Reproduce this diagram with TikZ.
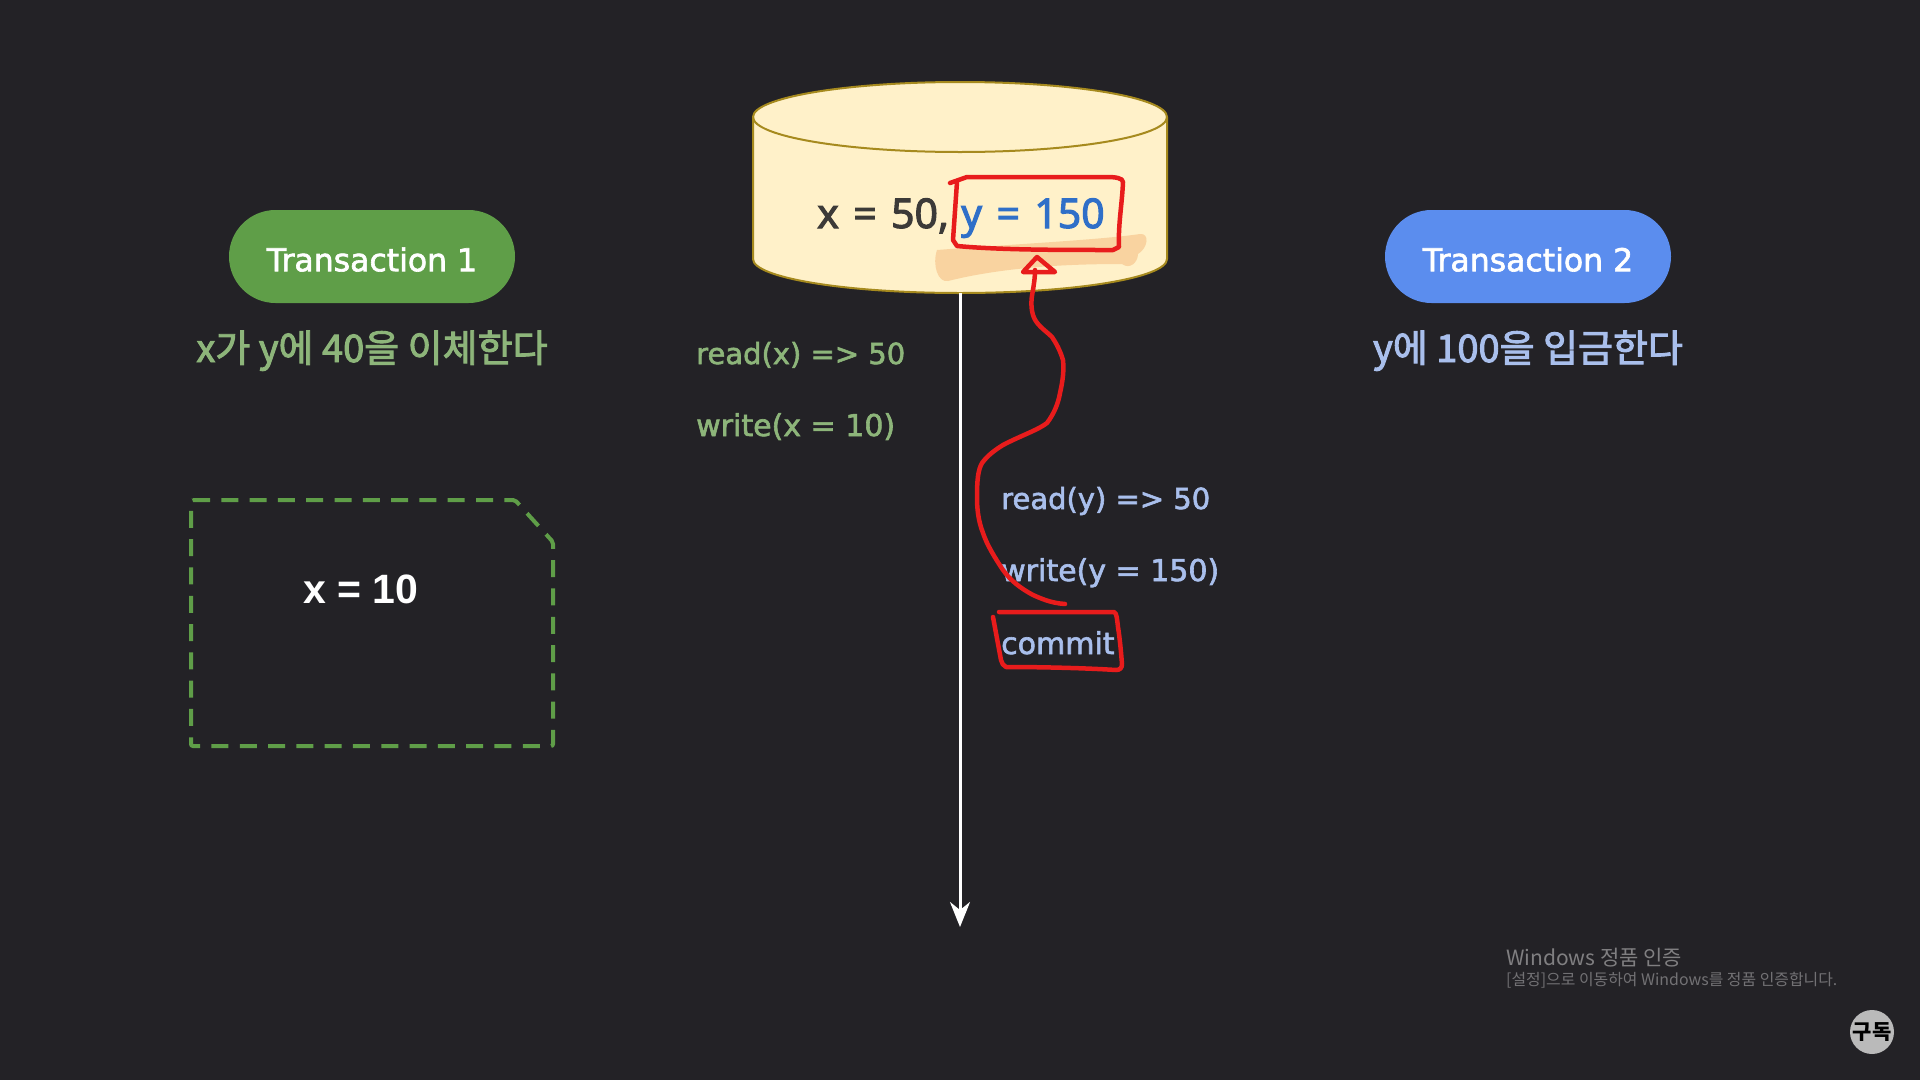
\documentclass[tikz,border=0pt]{standalone}
\usepackage{fontspec}
\usetikzlibrary{arrows.meta,shapes.misc}
\setmainfont[FakeBold=2]{DejaVu Sans}
\newfontfamily\krfont[FakeBold=2.5]{Noto Sans CJK KR}
\newfontfamily\wmfont{Noto Sans CJK KR}
\newfontfamily\arfont{Liberation Sans}
\newfontfamily\nsfont[FakeBold=2.5,WordSpace=1.35]{Noto Sans}
\definecolor{bgc}{HTML}{232226}
\definecolor{tgreen}{HTML}{5F9E48}
\definecolor{tblue}{HTML}{5B8DEE}
\definecolor{lgreen}{HTML}{8DB57A}
\definecolor{lblue}{HTML}{A9BFEC}
\definecolor{cylfill}{HTML}{FFF1C9}
\definecolor{cylline}{HTML}{A68A1E}
\definecolor{redink}{HTML}{E81C1C}
\definecolor{hilite}{HTML}{F9D3A0}
\definecolor{valdark}{HTML}{3C3A38}
\definecolor{valblue}{HTML}{2F6FC8}
\newcommand{\fsz}[1]{\fontsize{#1}{#1}\selectfont}
\tikzset{
 x=1pt,y=-1pt,
 pill/.style={rounded rectangle,minimum width=286pt,minimum height=93pt,inner sep=0pt,text=white},
 pilltext/.style={inner sep=0pt,text=white,font=\fsz{31.5}},
 oplabel/.style={anchor=base west,inner sep=0pt,font=\fsz{29}},
 oplabelw/.style={anchor=base west,inner sep=0pt,font=\fsz{30}},
 kolabel/.style={anchor=base,inner sep=0pt,font=\krfont\fsz{38}},
 vallabel/.style={anchor=base west,inner sep=0pt,font=\nsfont\fsz{41}},
 ink/.style={draw=redink,line width=4.5pt,line cap=round,line join=round}
}
\begin{document}
\begin{tikzpicture}
\useasboundingbox (0,0) rectangle (1920,1079.6);
\fill[bgc] (-2,-2) rectangle (1922,1084);
% cylinder
\path[fill=cylfill,draw=cylline,line width=2pt] (753,117) -- (753,259) arc[start angle=180,end angle=360,x radius=207,y radius=-34] -- (1167,117) arc[start angle=0,end angle=180,x radius=207,y radius=-35] -- cycle;
\draw[cylline,line width=2pt] (753,117) arc[start angle=180,end angle=360,x radius=207,y radius=-35];
\coordinate (dbbottom) at (960,293);
% highlight
\fill[hilite] (937,250) .. controls (1000,245) and (1100,240) .. (1140,234) .. controls (1150,233) and (1148,248) .. (1138,254) .. controls (1138,262) and (1130,270) .. (1122,264) .. controls (1060,264) and (1000,268) .. (948,281) .. controls (938,283) and (932,265) .. (937,250) -- cycle;
% values
\node[vallabel,text=valdark] (xval) at (817,228) {x = 50,};
\node[vallabel,text=valblue] (yval) at (961,228) {y = 150};
% timeline
\coordinate (tend) at (960,927);
\draw[white,line width=3pt,-{Stealth[length=25pt,width=20pt,inset=8pt]}] (dbbottom) -- (tend);
% transactions
\node[pill,fill=tgreen] (t1) at (372,256.5) {};
\node[pill,fill=tblue] (t2) at (1528,256.5) {};
\node[pilltext] (t1label) at (372,259.5) {Transaction 1};
\node[pilltext] (t2label) at (1528,259.5) {Transaction 2};
\node[kolabel,text=lgreen] (d1) at (372,362) {x가 y에 40을 이체한다};
\node[kolabel,text=lblue] (d2) at (1528,362) {y에 100을 입금한다};
% ops
\node[oplabel,text=lgreen] (r1) at (696,364) {read(x) => 50};
\node[oplabelw,text=lgreen] (w1) at (696,436) {write(x = 10)};
\node[oplabel,text=lblue] (r2) at (1001,509) {read(y) => 50};
\node[oplabelw,text=lblue] (w2) at (1001,581) {write(y = 150)};
\node[oplabelw,text=lblue] (c2) at (1001,654) {commit};
% folder
\draw[tgreen,line width=4pt,dash pattern=on 17pt off 11.3pt,rounded corners=2pt] (191,500) -- (515,500) -- (553,542) -- (553,746) -- (191,746) -- cycle;
\node[anchor=base,inner sep=0pt,text=white,font=\arfont\bfseries\fsz{41}] (xten) at (361,603) {x = 10};
% ink
\draw[ink] (950,183) -- (967,177) -- (1107,177) .. controls (1115,177) and (1123,178) .. (1123,182) .. controls (1122,205) and (1118,225) .. (1119,247) -- (1113,250) .. controls (1060,250) and (1000,250) .. (957,246) -- (953,240) -- (957,182);
\draw[ink] (1065,604) .. controls (1050,603) and (1040,598) .. (1033,595) .. controls (1020,588) and (1010,580) .. (1003,570) .. controls (995,558) and (987,545) .. (983,533) .. controls (978,520) and (977,508) .. (977,497) .. controls (977,480) and (978,470) .. (982,463) .. controls (988,455) and (995,450) .. (1003,445) .. controls (1020,436) and (1038,430) .. (1047,423) .. controls (1053,415) and (1058,405) .. (1060,393) .. controls (1063,380) and (1064,370) .. (1063,360) .. controls (1060,350) and (1056,343) .. (1052,337) .. controls (1045,330) and (1036,325) .. (1033,315) .. controls (1030,305) and (1032,295) .. (1033,290) .. controls (1034,283) and (1035,278) .. (1035,270);
\draw[ink] (1023,272) -- (1037,257) -- (1055,272) -- cycle;
\draw[ink] (999,612) -- (1060,612) -- (1114,612) .. controls (1117,613) and (1117,620) .. (1118,627) .. controls (1120,640) and (1121,652) .. (1122,664) .. controls (1122,668) and (1120,670) .. (1116,670) .. controls (1085,668) and (1040,667) .. (1006,667) .. controls (1003,666) and (1002,663) .. (1001,660) -- (993,617);
% watermark
\node[anchor=base west,inner sep=0pt,text=white!42!bgc,font=\wmfont\fsz{21}] (wm1) at (1506,965) {Windows 정품 인증};
\node[anchor=base west,inner sep=0pt,text=white!36!bgc,font=\wmfont\fsz{15.9}] (wm2) at (1506,985) {[설정]으로 이동하여 Windows를 정품 인증합니다.};
\node[circle,fill=black!27,minimum size=44pt,inner sep=0pt,text=black,font=\wmfont\bfseries\fsz{21}] (sub) at (1872,1032) {구독};
\end{tikzpicture}
\end{document}
